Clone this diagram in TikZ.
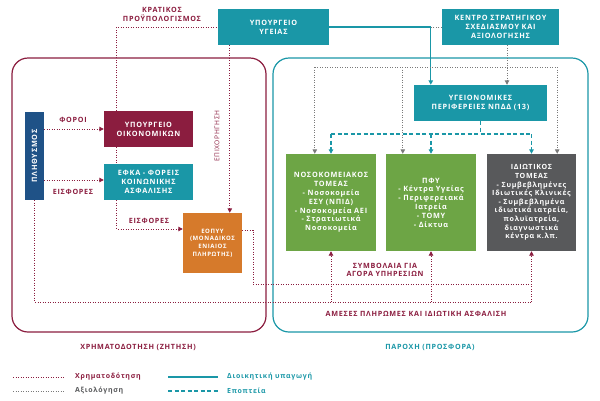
\documentclass[tikz,border=0pt]{standalone}
\usepackage{fontspec}
\setmainfont{Open Sans}[LetterSpace=10]
\usetikzlibrary{arrows.meta}
\definecolor{bordo}{HTML}{8B1D3F}
\definecolor{petrol}{HTML}{1A97A7}
\definecolor{navy}{HTML}{1F5287}
\definecolor{portok}{HTML}{D67A2B}
\definecolor{prasino}{HTML}{6DA545}
\definecolor{gkri}{HTML}{58595B}
\definecolor{axigri}{HTML}{7A7A7A}
\tikzset{box/.style={rectangle,text=white,align=center,inner sep=1pt,
            font=\fontsize{7.3}{8.8}\selectfont\bfseries},
         lbl/.style={text=bordo,align=center,inner sep=1pt,
            font=\fontsize{7.2}{8.6}\selectfont\bfseries},
         leg/.style={anchor=west,inner sep=1pt,font=\fontsize{7}{8}\selectfont\bfseries},
         fin/.style={draw=bordo,line width=0.9pt,dash pattern=on 0.9pt off 1.6pt},
         axi/.style={draw=axigri,line width=0.9pt,dash pattern=on 0.9pt off 1.6pt},
         adm/.style={draw=petrol,line width=1.1pt},
         epo/.style={draw=petrol,line width=1.1pt,dash pattern=on 4pt off 2.5pt},
         tip/.style={-{Triangle[width=4.5pt,length=4.5pt]}}
}
\begin{document}
\begin{tikzpicture}[x=1pt,y=-1pt]
\useasboundingbox (0,0) rectangle (600,400);

\draw[bordo,line width=1.2pt,rounded corners=16pt] (12,58) rectangle (266,332);
\draw[petrol,line width=1.2pt,rounded corners=16pt] (273,58) rectangle (588,332);

\node (uyg) at (273.5,27) [box,fill=petrol,minimum width=111,minimum height=36] {ΥΠΟΥΡΓΕΙΟ\\ΥΓΕΙΑΣ};
\node (kentro) at (500.5,27) [box,fill=petrol,minimum width=117,minimum height=36] {ΚΕΝΤΡΟ ΣΤΡΑΤΗΓΙΚΟΥ\\ΣΧΕΔΙΑΣΜΟΥ ΚΑΙ\\ΑΞΙΟΛΟΓΗΣΗΣ};
\node (ype) at (480.5,103) [box,fill=petrol,minimum width=133,minimum height=36] {ΥΓΕΙΟΝΟΜΙΚΕΣ\\ΠΕΡΙΦΕΡΕΙΕΣ ΝΠΔΔ (13)};

\node (noso) at (331,202.5) [box,fill=prasino,minimum width=90,minimum height=97] {ΝΟΣΟΚΟΜΕΙΑΚΟΣ\\ΤΟΜΕΑΣ\\- Νοσοκομεία\\ΕΣΥ (ΝΠΙΔ)\\- Νοσοκομεία ΑΕΙ\\- Στρατιωτικά\\Νοσοκομεία};
\node (pfy) at (431,202.5) [box,fill=prasino,minimum width=90,minimum height=97] {ΠΦΥ\\- Κέντρα Υγείας\\- Περιφερειακά\\Ιατρεία\\- ΤΟΜΥ\\- Δίκτυα};
\node (idiot) at (531.5,202.5) [box,fill=gkri,minimum width=89,minimum height=97,font=\fontsize{7.1}{8.6}\selectfont\bfseries] {ΙΔΙΩΤΙΚΟΣ\\ΤΟΜΕΑΣ\\- Συμβεβλημένες\\Ιδιωτικές Κλινικές\\- Συμβεβλημένα\\ιδιωτικά ιατρεία,\\πολυϊατρεία,\\διαγνωστικά\\κέντρα κ.λπ.};

\node (plith) at (34.5,156) [box,fill=navy,minimum width=19,minimum height=88] {\rotatebox{90}{ΠΛΗΘΥΣΜΟΣ}};
\node (ypoik) at (148.5,129) [box,fill=bordo,minimum width=89,minimum height=36] {ΥΠΟΥΡΓΕΙΟ\\ΟΙΚΟΝΟΜΙΚΩΝ};
\node (efka) at (148.5,182) [box,fill=petrol,minimum width=89,minimum height=36] {ΕΦΚΑ - ΦΟΡΕΙΣ\\ΚΟΙΝΩΝΙΚΗΣ\\ΑΣΦΑΛΙΣΗΣ};
\node (eopyy) at (212.5,243) [box,fill=portok,minimum width=59,minimum height=60,font=\fontsize{6}{7.8}\selectfont\bfseries] {ΕΟΠΥΥ\\(ΜΟΝΑΔΙΚΟΣ\\ΕΝΙΑΙΟΣ\\ΠΛΗΡΩΤΗΣ)};

\node (kp) at (162,14.5) [lbl] {ΚΡΑΤΙΚΟΣ\\ΠΡΟΫΠΟΛΟΓΙΣΜΟΣ};
\node (foroi) at (73,120) [lbl] {ΦΟΡΟΙ};
\node (eisf1) at (73,192) [lbl] {ΕΙΣΦΟΡΕΣ};
\node (eisf2) at (149,221) [lbl] {ΕΙΣΦΟΡΕΣ};
\node (epix) at (217,136) [lbl,rotate=90,font=\fontsize{6.6}{8}\selectfont] {ΕΠΙΧΟΡΗΓΗΣΗ};
\node (symb) at (385,270) [lbl] {ΣΥΜΒΟΛΑΙΑ ΓΙΑ\\ΑΓΟΡΑ ΥΠΗΡΕΣΙΩΝ};
\node (ameses) at (416,314) [lbl] {ΑΜΕΣΕΣ ΠΛΗΡΩΜΕΣ ΚΑΙ ΙΔΙΩΤΙΚΗ ΑΣΦΑΛΙΣΗ};
\node (zitisi) at (138,347) [lbl] {ΧΡΗΜΑΤΟΔΟΤΗΣΗ (ΖΗΤΗΣΗ)};
\node (prosfora) at (430,347) [lbl,text=petrol] {ΠΑΡΟΧΗ (ΠΡΟΣΦΟΡΑ)};

% xrimatodotisi
\draw[fin] ([xshift=13pt]ypoik.north west) |- (uyg.west);
\draw[fin] ([xshift=13pt]ypoik.south west) -- ([xshift=13pt]efka.north west);
\draw[fin,tip] ([xshift=13pt]efka.south west) |- ([yshift=14pt]eopyy.west);
\coordinate (epx) at ([xshift=12pt]uyg.south west);
\draw[fin,tip] (epx) -- (epx |- eopyy.north);
\draw[fin,tip] (plith.east |- ypoik.west) -- (ypoik.west);
\coordinate (eisf) at ([yshift=2pt]efka.west);
\draw[fin,tip] (plith.east |- eisf) -- (eisf);
\coordinate (amesa) at (0,302);
\draw[fin] (plith.south) |- (idiot.south |- amesa);
\foreach \b in {noso,pfy,idiot}
  \draw[fin,tip] (\b.south |- amesa) -- (\b.south);
\coordinate (symv) at (253,284);
\draw[fin] ([yshift=13pt]eopyy.east) -| (symv) -- (idiot.south |- symv);

% dioikisi, axiologisi, epopteia
\coordinate (dioik) at ([xshift=17pt]ype.north west);
\draw[adm,tip] (uyg.east) -| (dioik);
\draw[axi] (kentro.west) -- (dioik |- kentro.west);
\coordinate (axk) at ([xshift=6.5pt]kentro.south);
\draw[axi,tip] (axk) -- (axk |- ype.north);
\coordinate (axh) at (0,67);
\coordinate (ax1) at ([xshift=29pt]noso.north west);
\coordinate (ax2) at ([xshift=17pt]pfy.north west);
\coordinate (ax3) at ([xshift=-19pt]idiot.north east);
\draw[axi] (ax1 |- axh) -- (ax3 |- axh);
\foreach \a in {ax1,ax2,ax3}
  \draw[axi,tip] (\a |- axh) -- (\a);
\coordinate (epl) at (0,134);
\draw[epo] (ype.south) -- (ype.south |- epl);
\draw[epo] (noso.north |- epl) -- (idiot.north |- epl);
\foreach \b in {noso,pfy,idiot}
  \draw[epo,tip] (\b.north |- epl) -- (\b.north);

% legend
\coordinate (lg1a) at (13,377); \coordinate (lg1b) at (64,377);
\coordinate (lg2a) at (13,391); \coordinate (lg2b) at (64,391);
\coordinate (lg3a) at (168,377); \coordinate (lg3b) at (218,377);
\coordinate (lg4a) at (168,391); \coordinate (lg4b) at (218,391);
\draw[fin] (lg1a) -- (lg1b);
\draw[axi] (lg2a) -- (lg2b);
\draw[adm] (lg3a) -- (lg3b);
\draw[epo] (lg4a) -- (lg4b);
\node (lgfin) at (74,377) [leg,text=bordo] {Χρηματοδότηση};
\node (lgaxi) at (74,391) [leg,text=gkri] {Αξιολόγηση};
\node (lgadm) at (226,377) [leg,text=petrol] {Διοικητική υπαγωγή};
\node (lgepo) at (226,391) [leg,text=petrol] {Εποπτεία};
\end{tikzpicture}
\end{document}
